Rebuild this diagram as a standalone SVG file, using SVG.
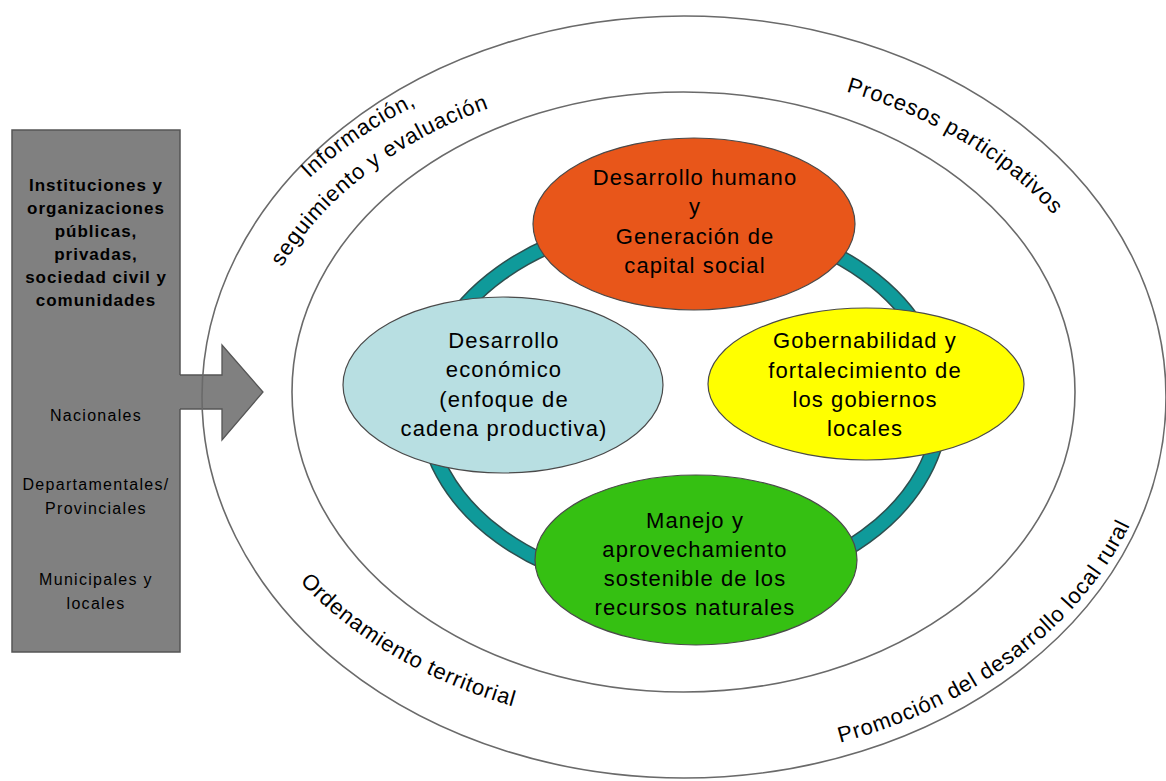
<svg xmlns="http://www.w3.org/2000/svg" xmlns:xlink="http://www.w3.org/1999/xlink" width="1166" height="781" viewBox="0 0 1166 781">
<style>
.band { fill: none; stroke: #6a6a6a; stroke-width: 1.6; }
.node { stroke: #4a4a4a; stroke-width: 1.2; }
.nt { font-family: "Liberation Sans", Arial, sans-serif; font-size: 22px; letter-spacing: 1.1px; fill: #000; text-anchor: middle; }
.bt { font-family: "Liberation Sans", Arial, sans-serif; font-size: 17px; font-weight: bold; letter-spacing: 1px; fill: #000; text-anchor: middle; }
.lt { font-family: "Liberation Sans", Arial, sans-serif; font-size: 16px; letter-spacing: 1.3px; fill: #000; text-anchor: middle; }
.ct { font-family: "Liberation Sans", Arial, sans-serif; font-size: 22px; letter-spacing: 0.8px; fill: #000; text-anchor: middle; }
</style>
<defs>
<path id="pInfo" d="M243.5,262 A474,347 0 0 1 536.5,62"/>
<path id="pSeg" d="M248.3,367.7 A436,317 0 0 1 640.4,76.5"/>
<path id="pProc" d="M748.5,72.5 A443,323 0 0 1 1117.1,327.6"/>
<path id="pOrd" d="M247.9,507.6 A463,338 0 0 0 634.6,728.1"/>
<path id="pProm" d="M708.9,762.5 A476,366 0 0 0 1156.4,441.6"/>
</defs>
<rect x="0" y="0" width="1166" height="781" fill="#ffffff"/>

<g id="actors">
<rect x="12" y="130" width="168" height="522" fill="#808080" stroke="#555555" stroke-width="1.5"/>
<text class="bt" x="96" y="191">Instituciones y</text>
<text class="bt" x="96" y="214">organizaciones</text>
<text class="bt" x="96" y="237">públicas,</text>
<text class="bt" x="96" y="260">privadas,</text>
<text class="bt" x="96" y="283">sociedad civil y</text>
<text class="bt" x="96" y="306">comunidades</text>
<text class="lt" x="96" y="421">Nacionales</text>
<text class="lt" x="96" y="490">Departamentales/</text>
<text class="lt" x="96" y="514">Provinciales</text>
<text class="lt" x="96" y="585">Municipales y</text>
<text class="lt" x="96" y="609">locales</text>
</g>

<g id="connectors">
<polygon points="179,375 222,375 222,345 263,392 222,440 222,409 179,409" fill="#808080"/>
<polyline points="180,375 222,375 222,345 263,392 222,440 222,409 180,409" fill="none" stroke="#555555" stroke-width="1.3"/>
</g>

<g id="outer-band">
<ellipse class="band" cx="684" cy="397" rx="482" ry="381"/>
<ellipse class="band" cx="683.5" cy="392" rx="391.5" ry="300"/>
</g>

<g id="band-labels">
<text class="ct"><textPath xlink:href="#pInfo" href="#pInfo" startOffset="172">Información,</textPath></text>
<text class="ct"><textPath xlink:href="#pSeg" href="#pSeg" startOffset="240">seguimiento y evaluación</textPath></text>
<text class="ct"><textPath xlink:href="#pProc" href="#pProc" startOffset="222">Procesos participativos</textPath></text>
<text class="ct"><textPath xlink:href="#pOrd" href="#pOrd" startOffset="216">Ordenamiento territorial</textPath></text>
<text class="ct"><textPath xlink:href="#pProm" href="#pProm" startOffset="320">Promoción del desarrollo local rural</textPath></text>
</g>

<g id="ring">
<ellipse cx="683" cy="405" rx="258" ry="186" fill="none" stroke="#2e4f4f" stroke-width="16"/>
<ellipse cx="683" cy="405" rx="258" ry="186" fill="none" stroke="#0f9a9a" stroke-width="13"/>
</g>

<g id="node-humano">
<ellipse class="node" cx="694" cy="224" rx="161" ry="86" fill="#e8561a"/>
<text class="nt" x="695" y="185">Desarrollo humano</text>
<text class="nt" x="695" y="214">y</text>
<text class="nt" x="695" y="244">Generación de</text>
<text class="nt" x="695" y="273">capital social</text>
</g>

<g id="node-economico">
<ellipse class="node" cx="503" cy="385" rx="160" ry="88" fill="#b8dfe2"/>
<text class="nt" x="504" y="348">Desarrollo</text>
<text class="nt" x="504" y="377">económico</text>
<text class="nt" x="504" y="407">(enfoque de</text>
<text class="nt" x="504" y="436">cadena productiva)</text>
</g>

<g id="node-gobernabilidad">
<ellipse class="node" cx="866" cy="384" rx="158" ry="76" fill="#ffff00"/>
<text class="nt" x="865" y="348">Gobernabilidad y</text>
<text class="nt" x="865" y="378">fortalecimiento de</text>
<text class="nt" x="865" y="407">los gobiernos</text>
<text class="nt" x="865" y="436">locales</text>
</g>

<g id="node-recursos">
<ellipse class="node" cx="696" cy="560" rx="161" ry="85" fill="#35c012"/>
<text class="nt" x="695" y="528">Manejo y</text>
<text class="nt" x="695" y="557">aprovechamiento</text>
<text class="nt" x="695" y="586">sostenible de los</text>
<text class="nt" x="695" y="615">recursos naturales</text>
</g>
</svg>
